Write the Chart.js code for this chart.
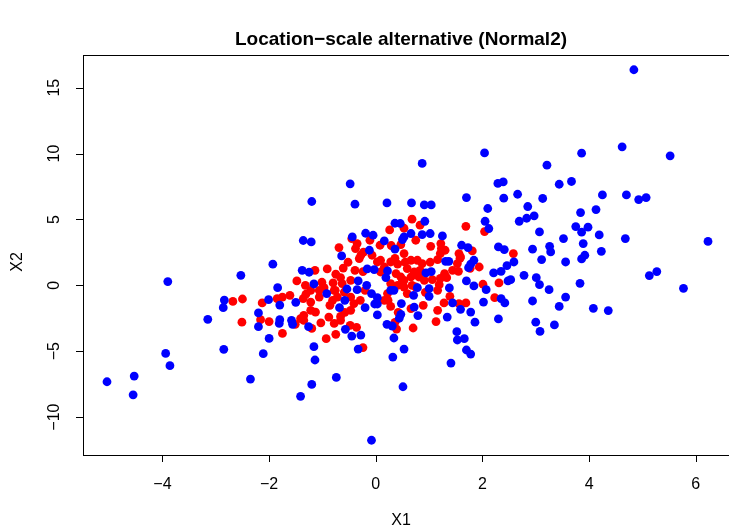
<!DOCTYPE html>
<html><head><meta charset="utf-8">
<script src="https://cdn.jsdelivr.net/npm/chart.js@4"></script>
<style>html,body{margin:0;padding:0;overflow:hidden;background:#fff;width:729px;height:531px}</style>
</head><body>
<canvas id="c" width="740" height="531" style="display:block;width:740px;height:531px"></canvas>
<script>
const titleText = 'Location\u2212scale alternative (Normal2)';
const xLabel = 'X1';
const yLabel = 'X2';
const xTicks = [-4, -2, 0, 2, 4, 6];
const yTicks = [-10, -5, 0, 5, 10, 15];
const xRange = [-5.49, 6.68];
const yRange = [-12.88, 17.48];

const blueX = [-0.48,0.87,2.04,2.29,2.39,3.21,3.44,4.84,3.86,4.62,5.52,3.67,
-3.90,-2.53,-2.84,-2.86,-3.15,
-1.20,-0.39,0.21,0.36,0.46,-0.44,-0.19,-0.05,0.16,0.50,-1.36,-1.21,-0.12,-0.64,0.36,-1.93,-1.38,-1.25,-0.16,-0.03,0.22,0.19,-0.33,-0.17,-1.16,-0.54,-0.35,-1.84,-0.92,-0.08,0.28,0.34,-2.01,-0.58,0.03,-1.50,-1.80,-0.02,0.03,-0.68,-0.20,0.48,-2.20,0.03,-1.80,-1.58,0.44,0.47,
0.67,0.91,1.04,1.70,2.40,2.66,3.13,2.10,2.85,2.69,2.83,2.97,2.05,2.12,0.92,3.07,0.66,0.53,0.87,1.02,1.25,1.61,1.73,2.30,2.41,2.94,3.26,3.28,3.52,3.11,2.59,2.46,1.84,1.78,1.74,1.31,1.37,2.35,2.21,2.78,0.94,1.04,2.53,2.48,1.70,3.01,3.07,1.84,2.07,3.25,1.38,0.78,1.00,0.71,1.00,2.35,2.42,2.94,1.44,1.59,2.02,1.78,3.44,1.34,0.72,0.79,2.30,3.00,1.86,
3.35,3.08,1.52,1.53,1.66,1.70,1.78,1.41,
4.25,4.70,4.93,5.07,3.84,4.13,3.75,3.86,3.98,4.19,3.89,4.68,6.23,4.23,3.92,3.86,3.56,5.27,5.13,3.83,5.77,3.56,4.08,4.36,
-5.04,-4.53,-4.55,-3.94,-3.86,-2.85,
-2.20,-2.00,-2.11,-2.35,-1.81,-1.56,-1.26,-1.16,-1.14,-1.20,-1.41,-0.74,-0.57,-0.45,-0.28,-0.33,-0.08,0.21,0.31,0.34,0.53,0.32,0.51];
const blueY = [7.70,9.25,10.05,7.73,7.85,9.12,7.67,16.36,10.03,10.51,9.83,7.88,
0.28,0.76,-1.12,-1.70,-2.58,
6.36,6.16,6.25,4.71,4.69,3.67,3.95,3.80,3.37,3.47,3.40,3.29,2.66,2.23,2.74,1.60,1.14,0.99,1.24,1.19,1.09,0.59,0.33,0.00,0.10,-0.28,-0.33,-0.18,-0.63,-0.63,-0.38,-0.38,-1.09,-1.14,-0.94,-1.29,-1.50,-1.42,-1.42,-1.70,-1.70,-1.39,-2.10,-2.25,-2.61,-2.66,-2.50,-2.20,
6.25,6.10,6.10,6.66,6.61,6.91,6.59,5.83,5.98,4.86,5.09,5.27,4.86,4.31,4.86,4.05,3.93,3.67,3.85,3.93,3.75,3.04,2.86,2.91,2.71,2.74,2.96,2.53,3.55,1.95,1.77,1.50,1.90,1.60,1.34,1.82,1.82,1.06,0.94,0.76,0.94,1.04,0.43,0.33,0.33,0.58,0.05,-0.05,-0.33,-0.33,-0.20,-0.18,-0.25,-0.76,-0.84,-1.01,-1.34,-1.19,-1.34,-1.82,-1.27,-2.03,-1.60,-2.41,-1.65,-2.30,-2.55,-2.80,-2.80,
-3.01,-3.50,-3.52,-4.15,-4.05,-4.91,-5.22,-5.90,
6.86,6.86,6.51,6.66,5.52,5.75,4.46,4.03,4.41,3.82,3.17,3.55,3.33,2.58,2.28,2.00,1.77,1.04,0.74,0.15,-0.23,-0.89,-1.75,-1.92,
-7.32,-6.89,-8.31,-5.17,-6.10,-4.86,
-3.14,-4.03,-5.19,-7.12,-2.89,-2.96,-3.14,-4.66,-5.67,-7.52,-8.43,-6.99,-3.34,-3.85,-3.78,-4.84,-11.76,-2.96,-3.09,-4.00,-4.84,-5.45,-7.70];

const redX = [-2.68,-2.50,-2.51,
0.26,-0.45,-0.35,-0.38,-0.28,-0.69,-0.23,-0.31,0.29,0.47,0.09,0.28,0.41,0.03,-0.91,-0.61,-0.24,-1.48,-0.75,-0.66,-0.80,-0.63,-0.47,0.16,0.38,0.47,0.09,0.28,0.41,0.50,-1.31,-1.22,-1.06,-0.97,-1.36,-1.22,-1.06,-0.78,-0.72,-0.81,-0.47,-0.41,-0.59,-1.75,-1.85,-2.13,-1.22,-1.13,-1.35,-1.41,-0.88,-0.66,-0.47,-0.66,0.28,0.16,0.22,-2.00,-2.16,-1.03,-1.35,
0.68,0.83,1.69,2.04,0.53,0.75,1.03,1.22,1.23,1.21,1.56,1.59,1.53,1.55,1.81,2.58,1.94,1.16,0.53,0.66,0.78,0.87,0.59,0.72,0.66,0.81,0.91,1.06,0.53,0.75,1.29,1.33,1.19,1.16,2.01,2.31,1.39,2.23,0.53,0.59,0.89,0.66,1.16,1.28,1.56,1.69,1.13,
-1.75,-1.51,-1.20,-0.78,-0.93,-0.75,-0.36,-0.24,0.39,0.70,
-0.86,-0.58,-0.29,-0.20,-0.39,-0.52,-0.76,-1.01,0.36,0.55,0.83,1.02,0.68,0.93,1.21,1.44,0.23,0.42,-1.14,-1.32,-1.61,-0.07,0.08,-0.11,1.30,1.58,1.77,-0.48,0.36];
const redY = [-1.22,-1.04,-2.80,
4.20,3.55,3.17,2.79,2.28,2.86,2.51,2.03,3.02,3.09,1.90,1.77,1.60,1.77,1.24,1.31,1.04,0.33,0.84,0.59,0.18,0.13,0.38,1.39,0.89,0.63,1.01,0.13,0.00,0.38,-0.68,-0.38,-0.38,-0.18,-1.01,-1.27,-0.89,-0.38,-0.89,-1.14,-0.89,-1.39,-0.51,-0.89,-1.01,-1.34,-1.90,-2.03,-2.28,-2.53,-2.41,-2.36,-1.90,-2.66,-1.60,-1.14,-0.63,-2.75,-2.61,-2.85,-2.66,
5.02,4.56,4.48,4.08,4.33,3.42,2.96,3.17,2.79,2.41,2.41,2.15,1.65,1.06,2.61,2.41,1.39,1.95,2.41,1.90,1.90,1.65,1.27,1.01,0.63,0.63,0.38,0.43,0.38,-0.13,0.89,0.58,0.05,-0.38,0.08,0.18,-0.84,-0.94,-0.13,-0.63,-1.52,-1.77,-1.90,-1.34,-1.39,-1.34,-2.75,
-3.65,-2.96,-3.27,-2.89,-4.05,-3.72,-3.19,-4.73,-3.32,-3.24,
-1.52,-2.05,-1.14,-0.38,1.14,1.75,-0.38,0.23,2.05,1.75,1.14,1.75,0.00,-0.53,0.53,1.14,-1.14,-2.05,1.14,0.00,-0.76,2.28,3.04,3.42,2.66,2.05,1.29,-3.04,-2.81];

function pts(xs, ys) { return xs.map((x, i) => ({ x: x, y: ys[i] })); }
function fmt(v) { return v < 0 ? '\u2212' + Math.abs(v) : String(v); }

const FONT = '"Liberation Sans", Arial, Helvetica, sans-serif';

const decor = {
  id: 'decor',
  afterDraw(chart) {
    const ctx = chart.ctx, a = chart.chartArea;
    const sx = chart.scales.x, sy = chart.scales.y;
    ctx.save();
    ctx.strokeStyle = '#000';
    ctx.lineWidth = 1;
    ctx.strokeRect(Math.round(a.left) + 0.5, Math.round(a.top) + 0.5, Math.round(a.right - a.left), Math.round(a.bottom - a.top));
    ctx.beginPath();
    xTicks.forEach(v => {
      const px = Math.round(sx.getPixelForValue(v)) + 0.5;
      ctx.moveTo(px, a.bottom); ctx.lineTo(px, a.bottom + 7);
    });
    yTicks.forEach(v => {
      const py = Math.round(sy.getPixelForValue(v)) + 0.5;
      ctx.moveTo(a.left, py); ctx.lineTo(a.left - 7, py);
    });
    ctx.stroke();
    ctx.fillStyle = '#000';
    ctx.font = '16px ' + FONT;
    ctx.textAlign = 'center';
    ctx.textBaseline = 'middle';
    xTicks.forEach(v => {
      ctx.fillText(fmt(v), sx.getPixelForValue(v), 485);
    });
    yTicks.forEach(v => {
      ctx.save();
      ctx.translate(55, sy.getPixelForValue(v));
      ctx.rotate(-Math.PI / 2);
      ctx.fillText(fmt(v), 0, 0);
      ctx.restore();
    });
    ctx.fillText(xLabel, 401, 521);
    ctx.save();
    ctx.translate(18, 262);
    ctx.rotate(-Math.PI / 2);
    ctx.fillText(yLabel, 0, 0);
    ctx.restore();
    ctx.font = 'bold 19px ' + FONT;
    ctx.fillText(titleText, 401, 40);
    ctx.restore();
  }
};

new Chart(document.getElementById('c'), {
  type: 'scatter',
  data: {
    datasets: [
      { label: 'blue', data: pts(blueX, blueY), backgroundColor: '#0000FF', borderWidth: 0, pointRadius: 4.4, order: 0 },
      { label: 'red', data: pts(redX, redY), backgroundColor: '#FF0000', borderWidth: 0, pointRadius: 4.4, order: 1 }
    ]
  },
  options: {
    responsive: false,
    animation: false,
    devicePixelRatio: 1,
    layout: { padding: { left: 83, right: 8, top: 55, bottom: 76 } },
    plugins: { legend: { display: false }, tooltip: { enabled: false } },
    scales: {
      x: { type: 'linear', display: false, min: xRange[0], max: xRange[1] },
      y: { type: 'linear', display: false, min: yRange[0], max: yRange[1] }
    }
  },
  plugins: [decor]
});
</script>
</body></html>
